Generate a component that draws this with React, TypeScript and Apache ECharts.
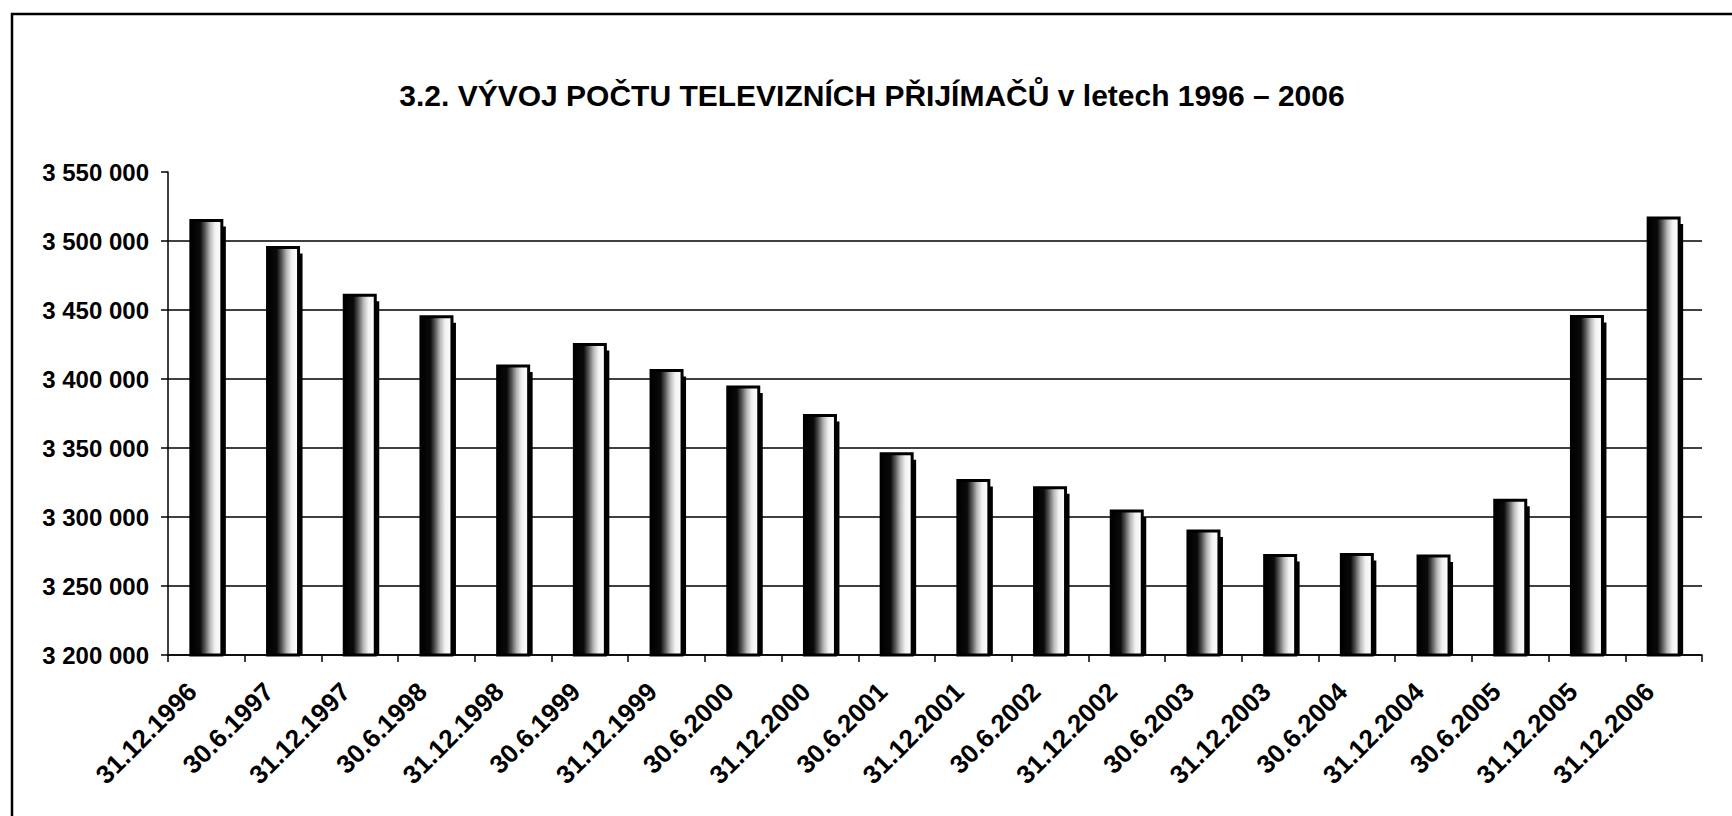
import React, { useEffect, useRef } from "react";
import * as echarts from "echarts";

const title = "3.2. VÝVOJ POČTU TELEVIZNÍCH PŘIJÍMAČŮ v letech 1996 – 2006";

const categories = [
  "31.12.1996", "30.6.1997", "31.12.1997", "30.6.1998", "31.12.1998",
  "30.6.1999", "31.12.1999", "30.6.2000", "31.12.2000", "30.6.2001",
  "31.12.2001", "30.6.2002", "31.12.2002", "30.6.2003", "31.12.2003",
  "30.6.2004", "31.12.2004", "30.6.2005", "31.12.2005", "31.12.2006",
];

const receivers = [
  3515900, 3496400, 3461800, 3446200, 3410500,
  3426000, 3407200, 3395200, 3374600, 3347000,
  3327500, 3322300, 3305400, 3291000, 3273200,
  3273900, 3272900, 3313200, 3446400, 3517800,
];

const yMin = 3200000;
const yMax = 3550000;
const yStep = 50000;

const fmt = (v: number) => String(Math.round(v)).replace(/\B(?=(\d{3})+(?!\d))/g, " ");

export default function App() {
  const ref = useRef<HTMLDivElement>(null);
  useEffect(() => {
    if (!ref.current) return;
    const chart = echarts.init(ref.current, null, { renderer: "svg" });
    const font = "'Liberation Sans', Arial, sans-serif";
    const barFill = new echarts.graphic.LinearGradient(0, 0, 1, 0, [
      { offset: 0, color: "#000" },
      { offset: 0.3, color: "#0a0a0a" },
      { offset: 0.45, color: "#555" },
      { offset: 0.62, color: "#b8b8b8" },
      { offset: 0.78, color: "#f2f2f2" },
      { offset: 1, color: "#fff" },
    ]);
    chart.setOption({
      animation: false,
      backgroundColor: "#fff",
      graphic: [
        {
          type: "rect",
          shape: { x: 12, y: 14, width: 1740, height: 820 },
          style: { fill: "none", stroke: "#000", lineWidth: 2.5 },
          silent: true,
        },
        {
          type: "text",
          x: 872,
          y: 95,
          style: {
            text: title,
            fontFamily: font,
            fontWeight: "bold",
            fontSize: 30,
            fill: "#000",
            textAlign: "center",
            textVerticalAlign: "middle",
          },
        },
      ],
      grid: { left: 168, right: 30, top: 172, bottom: 161, containLabel: false },
      xAxis: {
        type: "category",
        data: categories,
        boundaryGap: true,
        axisLine: { show: true, lineStyle: { color: "#000", width: 1.5 } },
        axisTick: { show: true, interval: 0, length: 7, lineStyle: { color: "#000", width: 1.5 } },
        axisLabel: {
          interval: 0,
          rotate: 45,
          margin: 18,
          padding: [0, 20, 0, 0],
          color: "#000",
          fontFamily: font,
          fontWeight: "bold",
          fontSize: 26,
        },
        splitLine: { show: false },
      },
      yAxis: {
        type: "value",
        min: yMin,
        max: yMax,
        interval: yStep,
        axisLine: { show: true, lineStyle: { color: "#000", width: 1.5 } },
        axisTick: { show: true, length: 7, lineStyle: { color: "#000", width: 1.5 } },
        axisLabel: {
          margin: 19,
          color: "#000",
          fontFamily: font,
          fontWeight: "bold",
          fontSize: 24,
          formatter: (v: number) => fmt(v),
        },
        splitLine: { show: true, showMaxLine: false, lineStyle: { color: "#000", width: 1.5 } },
      },
      series: [
        {
          type: "custom",
          data: receivers.map((v, i) => [i, v]),
          encode: { x: 0, y: 1 },
          renderItem: (params: any, api: any) => {
            const top = api.coord([api.value(0), api.value(1)]);
            const base = api.coord([api.value(0), yMin]);
            const bw = 31;
            const x = top[0] - bw / 2;
            const y0 = top[1] + 1.5;
            const h = base[1] - y0;
            return {
              type: "group",
              children: [
                {
                  type: "rect",
                  shape: { x: x + 4, y: y0 + 6, width: bw, height: Math.max(0, h - 6) },
                  style: { fill: "#000" },
                },
                {
                  type: "rect",
                  shape: { x, y: y0, width: bw, height: h },
                  style: { fill: barFill, stroke: "#000", lineWidth: 3 },
                },
              ],
            };
          },
        },
      ],
    });
    return () => chart.dispose();
  }, []);
  return (
    <div
      ref={ref}
      style={{ position: "fixed", left: 0, top: 0, width: 1732, height: 816, background: "#fff" }}
    />
  );
}
